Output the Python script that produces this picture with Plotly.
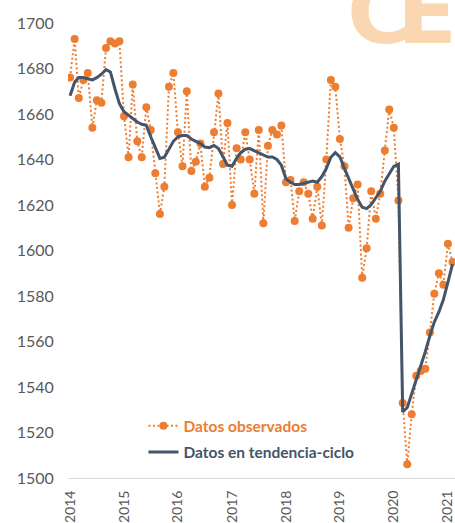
import pandas as pd
import plotly.graph_objects as go

# Monthly series, Jan 2014 - Feb 2021
observados = [
    1676, 1693, 1667, 1675, 1678, 1654, 1666, 1665, 1689, 1692, 1691, 1692,
    1659, 1641, 1673, 1648, 1641, 1663, 1653, 1634, 1616, 1628, 1672, 1678,
    1652, 1637, 1670, 1635, 1639, 1647, 1628, 1632, 1652, 1669, 1638, 1656,
    1620, 1645, 1640, 1652, 1640, 1625, 1653, 1612, 1646, 1653, 1651, 1655,
    1630, 1631, 1613, 1626, 1630, 1625, 1614, 1628, 1611, 1640, 1675, 1672,
    1649, 1637, 1610, 1623, 1629, 1588, 1601, 1626, 1614, 1625, 1644, 1662,
    1654, 1622, 1533, 1506, 1528, 1545, 1547, 1548, 1564, 1581, 1590, 1585,
    1603, 1595,
]
tendencia = [
    1668, 1674, 1676, 1676, 1675.5, 1675, 1676, 1677.5, 1679.5, 1678.5, 1671, 1664.5,
    1661, 1659.5, 1658, 1656.5, 1655.5, 1655, 1650, 1645, 1640.5, 1641, 1644.5, 1648,
    1650, 1650.5, 1650.5, 1649, 1648, 1647, 1645.5, 1645.2, 1646.2, 1644.8, 1641.2, 1637.5,
    1637, 1640.5, 1643, 1644.5, 1644.8, 1643.8, 1642.8, 1641.8, 1641.1, 1641.1, 1640, 1637.5,
    1631.5, 1630, 1629, 1629, 1629.5, 1630.3, 1630.5, 1630, 1632.5, 1636, 1641, 1643,
    1641.2, 1636, 1631.5, 1627, 1622.5, 1619, 1618.4, 1620.2, 1623.2, 1626, 1630.5, 1634,
    1637, 1638, 1529, 1531, 1537, 1542.5, 1549, 1555.5, 1562.5, 1568.5, 1573, 1578.3,
    1586, 1594,
]
fechas = pd.date_range("2014-01-01", periods=len(observados), freq="MS")

nombre_obs = "Datos observados"
nombre_tend = "Datos en tendencia-ciclo"

ORANGE = "#ED7D31"
NAVY = "#44546A"
LOGO = "#FAD7B0"

fig = go.Figure()
fig.add_trace(go.Scatter(
    x=fechas, y=observados, name=nombre_obs, mode="lines+markers",
    line=dict(color=ORANGE, width=2, dash="2px,2.5px"),
    marker=dict(color=ORANGE, size=8),
    legend="legend", showlegend=True,
))
fig.add_trace(go.Scatter(
    x=fechas, y=tendencia, name=nombre_tend, mode="lines",
    line=dict(color=NAVY, width=3),
    legend="legend2", showlegend=True,
))

for letra, xpos in (("C", 0.716), ("E", 0.845)):
    fig.add_annotation(
        text="<b>%s</b>" % letra, xref="paper", yref="paper", x=xpos, y=0.905,
        xanchor="left", yanchor="bottom", showarrow=False,
        font=dict(family="DejaVu Sans", size=88, color=LOGO),
    )

fig.update_layout(
    width=455, height=523,
    margin=dict(l=68, r=0, t=23, b=45),
    paper_bgcolor="white", plot_bgcolor="white",
    font=dict(family="Lato", size=16, color="#595959"),
    showlegend=True,
    legend=dict(
        x=0.195, y=0.114, xanchor="left", yanchor="middle",
        bgcolor="rgba(0,0,0,0)", itemwidth=30,
        font=dict(family="Lato", size=15.5, color=ORANGE, weight="bold"),
    ),
    legend2=dict(
        x=0.195, y=0.056, xanchor="left", yanchor="middle",
        bgcolor="rgba(0,0,0,0)", itemwidth=30,
        font=dict(family="Lato", size=15.5, color=NAVY, weight="bold"),
    ),
    xaxis=dict(
        type="date", range=["2013-12-18", "2021-02-18"],
        tick0="2014-01-01", dtick="M12", tickformat="%Y",
        tickangle=-90, showgrid=False, zeroline=False, automargin=False,
        ticklabeloverflow="allow",
        showline=True, linecolor="#D9D9D9", linewidth=1,
        ticks="outside", ticklen=6, tickcolor="rgba(0,0,0,0)",
        tickfont=dict(family="Lato", size=14, color="#595959"),
    ),
    yaxis=dict(
        range=[1500, 1700], dtick=20, showgrid=False, zeroline=False,
        automargin=False,
        showline=False, ticks="outside", ticklen=10, tickcolor="rgba(0,0,0,0)",
        tickfont=dict(family="Lato", size=16, color="#595959"),
    ),
)

fig.write_html("out.html", config={"displayModeBar": False},
               post_script="document.body.style.margin='0';")
